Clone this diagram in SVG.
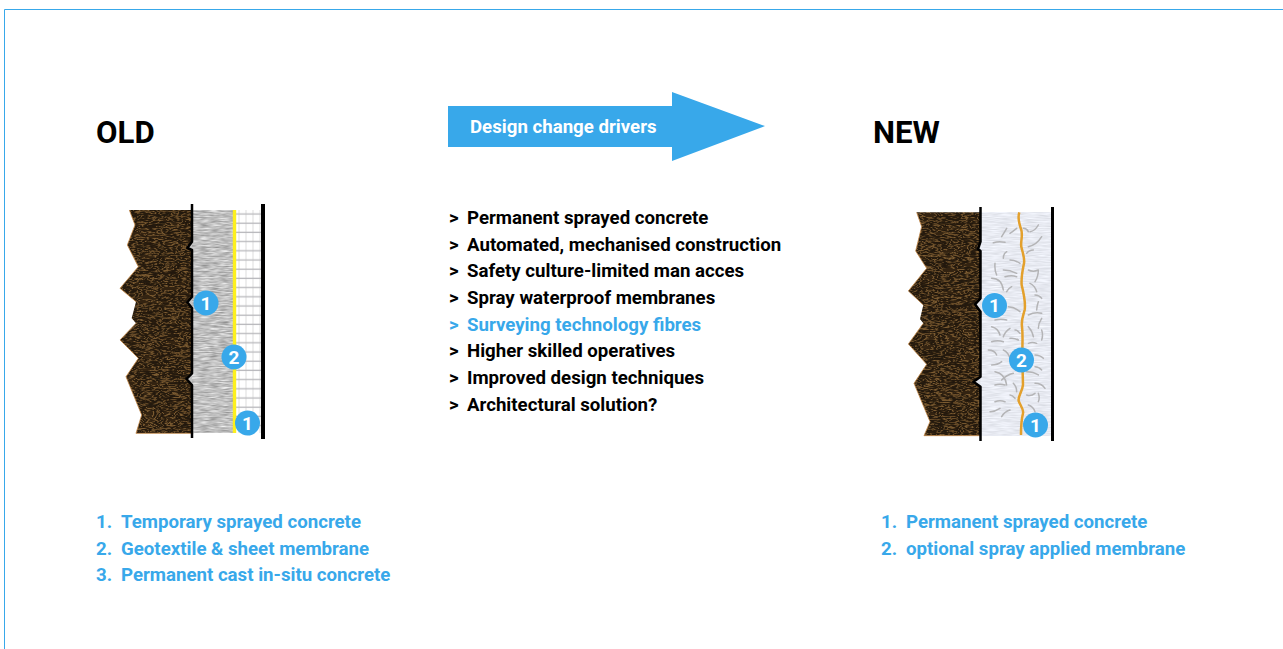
<svg xmlns="http://www.w3.org/2000/svg" width="1283" height="649" viewBox="0 0 1283 649">
<style>
text{font-family:Roboto,"Liberation Sans",sans-serif}
.h{font-size:31.200px;font-weight:700;fill:#000}
.t{font-size:18.67px;font-weight:700;fill:#000}
.b{font-size:18.67px;font-weight:700;fill:#38a8ea}
.n{font-size:19px;font-weight:700;fill:#fff;text-anchor:middle}
.c{fill:#38a8ea}
.w{fill:none;stroke:#000;stroke-width:2.500;stroke-linejoin:round}
.f{fill:none;stroke:#b4b4b6;stroke-width:4.500;stroke-linecap:round}
.edge{fill:none;stroke:#c58a4a;stroke-width:2.400}
</style>
<defs>
<filter id="rock" x="0" y="0" width="100%" height="100%" color-interpolation-filters="sRGB">
<feTurbulence type="turbulence" baseFrequency="0.05 0.22" numOctaves="2" seed="11"/>
<feColorMatrix type="matrix" values="2 0 0 0 0  2 0 0 0 0  2 0 0 0 0  0 0 0 0 1"/>
<feComponentTransfer><feFuncR type="table" tableValues="0.12 0.15 0.44 0.17 0.13 0.2 0.5 0.2"/><feFuncG type="table" tableValues="0.09 0.11 0.32 0.12 0.09 0.14 0.37 0.14"/><feFuncB type="table" tableValues="0.05 0.06 0.17 0.06 0.05 0.07 0.2 0.07"/></feComponentTransfer>
</filter>
<filter id="conc" x="0" y="0" width="100%" height="100%" color-interpolation-filters="sRGB">
<feTurbulence type="fractalNoise" baseFrequency="0.1 0.8" numOctaves="2" seed="3"/>
<feColorMatrix type="matrix" values="0.5 0 0 0 0.5  0.5 0 0 0 0.5  0.5 0 0 0 0.5  0 0 0 0 1"/>
</filter>
<filter id="conc2" x="0" y="0" width="100%" height="100%" color-interpolation-filters="sRGB">
<feTurbulence type="fractalNoise" baseFrequency="0.08 0.8" numOctaves="2" seed="5"/>
<feColorMatrix type="matrix" values="0.18 0 0 0 0.82  0.18 0 0 0 0.83  0.18 0 0 0 0.86  0 0 0 0 1"/>
</filter>
<pattern id="mesh" width="7" height="9.200" patternUnits="userSpaceOnUse" x="236" y="210">
<rect width="7" height="9.200" fill="#fff"/>
<path d="M3 0V9.200" stroke="#dedede" stroke-width="1"/>
<path d="M0 4H7" stroke="#b9b9bd" stroke-width="1.300"/>
</pattern>
<clipPath id="rockOld"><path transform="translate(110 195) scale(.33333)" d="M58 45H250V715H78L95 660L48 545L85 490L30 435L78 385L65 370L78 320L30 280L85 215L52 150L75 90Z"/></clipPath>
<clipPath id="rockNew"><path transform="translate(895 195) scale(.33333)" d="M65 52H256V722H87L105 680L57 565L95 508L40 447L85 385L75 372L85 330L40 288L95 220L62 168L80 95Z"/></clipPath>
</defs>

<g id="frame"><path d="M1283 9.500H4.500V649" fill="none" stroke="#38a8ea" stroke-width="1"/></g>

<g id="title-old"><text class="h" x="96" y="143">OLD</text></g>
<g id="title-new"><text class="h" x="873" y="143">NEW</text></g>

<g id="arrow">
<path class="c" d="M448 106H672V92L765 126L672 161V147H448Z"/>
<text x="470" y="133" font-size="18.67" font-weight="700" fill="#fff">Design change drivers</text>
</g>

<g id="section-old">
<g clip-path="url(#rockOld)"><rect x="115" y="205" width="80" height="232" filter="url(#rock)"/></g>
<path class="edge" transform="translate(110 195) scale(.33333)" d="M58 45L75 90L52 150L85 215L30 280L78 320M78 385L30 435L85 490L48 545L95 660L78 715H245"/>
<rect x="192" y="210" width="41" height="223" filter="url(#conc)"/>
<path d="M192 241.700L187.300 248L192 250ZM192 296.700L187.300 302.300L192 308ZM192 373.300L186.500 379L192 385Z" fill="#c4c4c4"/>
<rect x="236" y="210" width="25" height="223" fill="url(#mesh)"/>
<rect x="232.800" y="210" width="3.400" height="223" fill="#fdf01e"/>
<path class="w" d="M192 204V241.700L187.300 248L192 250V296.700L187.300 302.300L192 308V373.300L186.500 379L192 385V438"/>
<rect x="261" y="204" width="4" height="235" fill="#000"/>
</g>

<g id="section-new">
<g clip-path="url(#rockNew)"><rect x="903" y="207" width="80" height="232" filter="url(#rock)"/></g>
<path class="edge" transform="translate(895 195) scale(.33333)" d="M65 52L80 95L62 168L95 220L40 288L85 330M85 385L40 447L95 508L57 565L105 680L87 722H256"/>
<rect x="980" y="212" width="71" height="224" filter="url(#conc2)"/>
<path d="M980.500 241.700L978 249L980.500 251ZM980.500 298.300L975 304.300L980.500 311.700ZM980.500 376.700L973.500 381.700L980.500 386.700Z" fill="#e2e4ea"/>
<g id="fibres" transform="translate(895 195) scale(.33333)">
<path class="f" d="M295 143Q312 138 330 142M320 125Q328 112 335 100M345 115Q350 112 365 100M385 100Q395 100 400 110M405 110Q420 108 430 90M400 155Q425 150 440 125M415 165Q402 165 395 175M335 170Q325 175 325 190M345 195Q360 195 375 205M300 205Q298 225 305 240M325 225Q345 225 365 235M290 250Q320 250 325 285M400 225Q415 232 430 225M430 225Q430 245 420 260M405 265Q420 272 425 290M330 245Q350 240 365 245M335 290Q340 280 350 275M420 300Q432 300 440 310M430 320Q425 335 425 345M340 335Q358 335 375 350M400 360Q420 350 440 355M440 370Q430 385 430 400M300 375Q318 370 335 375M290 395Q310 400 315 420M345 400Q330 410 325 425M360 405Q368 405 375 415M400 395Q412 408 415 425M440 405Q445 420 440 435M290 440Q308 435 325 440M345 430Q358 428 370 435M400 445Q412 440 425 445M280 465Q298 465 305 480M325 465Q340 472 345 490M290 510Q308 510 320 500M420 480Q435 480 445 490M420 515Q432 515 440 525M300 530Q330 535 335 570M355 535Q335 540 320 555M395 530Q415 530 430 540M300 570Q315 565 330 570M420 565Q440 565 450 580M355 565Q365 575 365 590M300 620Q315 615 330 620M345 600Q352 600 360 610M395 600Q408 605 420 595M430 595Q435 610 430 620M285 650Q300 650 315 640M345 645Q328 650 320 665M400 630Q415 635 420 650"/>
</g>
<path transform="translate(895 195) scale(.33333)" d="M373 52C368 65 372 85 379 105C384 125 376 140 379 155C383 175 390 190 387 205C383 225 378 245 380 270C385 290 392 325 389 345C385 360 378 375 381 395C384 420 382 450 382 470C382 500 383 530 384 570C382 590 368 605 371 618C378 635 387 645 384 655C378 680 378 700 378 720" fill="none" stroke="#e3a02c" stroke-width="7.500"/>
<path class="w" d="M980.500 207V241.700L978 249L980.500 251V298.300L975 304.300L980.500 311.700V376.700L973.500 381.700L980.500 386.700V441"/>
<rect x="1051" y="207" width="3" height="234" fill="#000"/>
</g>

<g id="badge-old-1a"><circle class="c" cx="206" cy="303" r="12.500"/><text class="n" x="206" y="309.800">1</text></g>
<g id="badge-old-2"><circle class="c" cx="234" cy="357" r="12.500"/><text class="n" x="234" y="363.800">2</text></g>
<g id="badge-old-1b"><circle class="c" cx="247.500" cy="423" r="12.500"/><text class="n" x="247.500" y="429.800">1</text></g>
<g id="badge-new-1a"><circle class="c" cx="994.500" cy="305.500" r="12.500"/><text class="n" x="994.500" y="312.300">1</text></g>
<g id="badge-new-2"><circle class="c" cx="1021.500" cy="360" r="12.500"/><text class="n" x="1021.500" y="366.800">2</text></g>
<g id="badge-new-1b"><circle class="c" cx="1035.500" cy="425" r="12.500"/><text class="n" x="1035.500" y="431.800">1</text></g>

<g id="drivers">
<text class="t" x="449" y="224">&gt;</text><text class="t" x="467" y="224">Permanent sprayed concrete</text>
<text class="t" x="449" y="250.700">&gt;</text><text class="t" x="467" y="250.700">Automated, mechanised construction</text>
<text class="t" x="449" y="277.300">&gt;</text><text class="t" x="467" y="277.300">Safety culture-limited man acces</text>
<text class="t" x="449" y="304">&gt;</text><text class="t" x="467" y="304">Spray waterproof membranes</text>
<text class="b" x="449" y="330.700">&gt;</text><text class="b" x="467" y="330.700">Surveying technology fibres</text>
<text class="t" x="449" y="357.300">&gt;</text><text class="t" x="467" y="357.300">Higher skilled operatives</text>
<text class="t" x="449" y="384">&gt;</text><text class="t" x="467" y="384">Improved design techniques</text>
<text class="t" x="449" y="410.700">&gt;</text><text class="t" x="467" y="410.700">Architectural solution?</text>
</g>

<g id="legend-old">
<text class="b" x="96" y="528">1.</text><text class="b" x="121" y="528">Temporary sprayed concrete</text>
<text class="b" x="96" y="554.700">2.</text><text class="b" x="121" y="554.700">Geotextile &amp; sheet membrane</text>
<text class="b" x="96" y="581.300">3.</text><text class="b" x="121" y="581.300">Permanent cast in-situ concrete</text>
</g>
<g id="legend-new">
<text class="b" x="881" y="528">1.</text><text class="b" x="906" y="528">Permanent sprayed concrete</text>
<text class="b" x="881" y="554.700">2.</text><text class="b" x="906" y="554.700">optional spray applied membrane</text>
</g>
</svg>
